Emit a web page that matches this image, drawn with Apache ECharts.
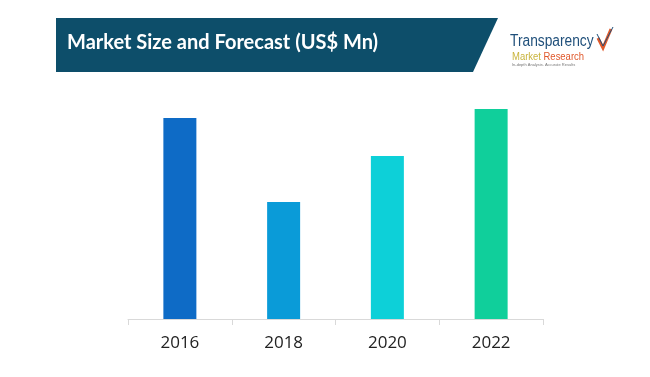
<!DOCTYPE html>
<html>
<head>
<meta charset="utf-8">
<script src="https://cdn.jsdelivr.net/npm/echarts@6/dist/echarts.min.js"></script>
<style>html,body{margin:0;padding:0;background:#fff}#c{width:650px;height:377px}</style>
</head>
<body>
<div id="c"></div>
<script>
var categories = ['2016', '2018', '2020', '2022'];
var values = [201, 117, 163, 210];
var barColors = ['#0e6bc6', '#0a9bd8', '#0dd0d8', '#10cf9b'];
var titleText = 'Market Size and Forecast (US$ Mn)';

var chart = echarts.init(document.getElementById('c'));
chart.setOption({
  animation: false,
  backgroundColor: '#ffffff',
  grid: { left: 128, right: 107, top: 99, bottom: 58 },
  xAxis: {
    type: 'category',
    data: categories,
    axisLine: { lineStyle: { color: '#d9d9d9', width: 1 } },
    axisTick: { show: true, length: 6, lineStyle: { color: '#d9d9d9' } },
    axisLabel: { color: '#222222', fontSize: 17, fontFamily: 'Open Sans', margin: 16 }
  },
  yAxis: {
    type: 'value', min: 0, max: 220, show: false,
    splitLine: { show: false }
  },
  series: [{
    type: 'bar',
    barWidth: 33,
    data: values.map(function (v, i) { return { value: v, itemStyle: { color: barColors[i] } }; })
  }],
  graphic: [
    { type: 'polygon', shape: { points: [[56, 18], [498, 18], [473, 72], [56, 72]] }, style: { fill: '#0d4e6a' } },
    { type: 'text', left: 67, top: 33, style: { text: titleText, fill: '#ffffff', font: 'bold 20px Lato' } },
    { type: 'text', x: 510, y: 34, scaleX: 0.86, style: { text: 'Transparency', fill: '#1f4f7a', font: '16px "Liberation Sans"', verticalAlign: 'top' } },
    { type: 'text', x: 512, y: 51, scaleX: 0.86, style: { rich: { a: { fill: '#c9b43c', font: '11px "Liberation Sans"' }, b: { fill: '#e0582b', font: '11px "Liberation Sans"' } }, text: '{a|Market }{b|Research}', verticalAlign: 'top' } },
    { type: 'text', x: 512, y: 63, style: { text: 'In-depth Analysis. Accurate Results', fill: '#777777', font: '4px "Liberation Sans"', verticalAlign: 'top' } },
    { type: 'polyline', shape: { points: [[598, 38], [603, 48], [611, 29]] }, style: { stroke: '#e05a2b', lineWidth: 3, fill: null } },
    { type: 'polyline', shape: { points: [[597, 34], [603, 46], [613, 27]] }, style: { stroke: '#1f4f7a', lineWidth: 1, fill: null } }
  ]
});
</script>
</body>
</html>
